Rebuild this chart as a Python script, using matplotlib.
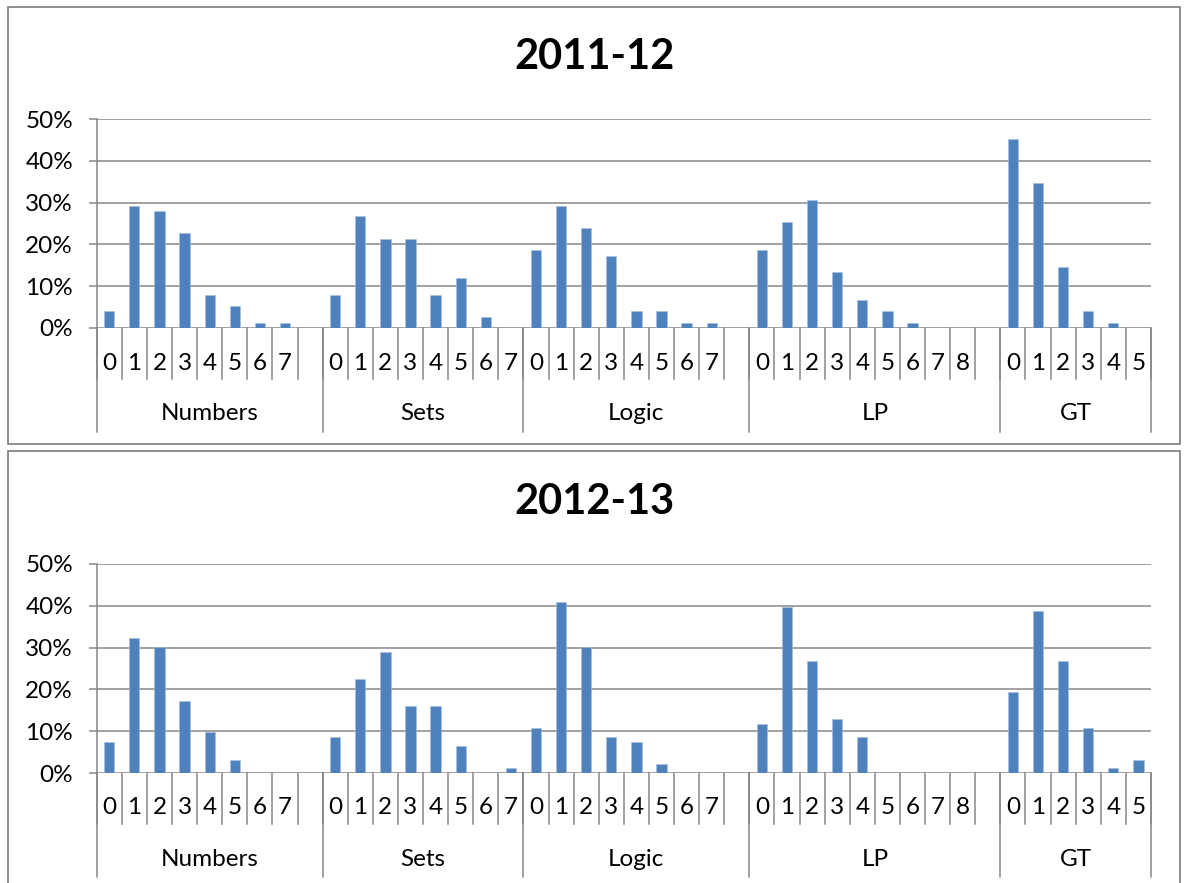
import numpy as np
import matplotlib
matplotlib.use("Agg")
import matplotlib.pyplot as plt
from matplotlib.patches import Rectangle
import matplotlib.transforms as mtransforms

# ---- data -----------------------------------------------------------------
groups = ["Numbers", "Sets", "Logic", "LP", "GT"]
# score labels per topic ("" = empty spacer category)
labels_numbers = ["0", "1", "2", "3", "4", "5", "6", "7", ""]
labels_sets = ["0", "1", "2", "3", "4", "5", "6", "7"]
labels_logic = ["0", "1", "2", "3", "4", "5", "6", "7", ""]
labels_lp = ["0", "1", "2", "3", "4", "5", "6", "7", "8", ""]
labels_gt = ["0", "1", "2", "3", "4", "5"]

# share of students (%) per score, 2011-12
y1_numbers = [4.0, 29.3, 28.0, 22.7, 8.0, 5.3, 1.3, 1.3]
y1_sets = [8.0, 26.7, 21.3, 21.3, 8.0, 12.0, 2.7, 0.0]
y1_logic = [18.7, 29.3, 24.0, 17.3, 4.0, 4.0, 1.3, 1.3]
y1_lp = [18.7, 25.3, 30.7, 13.3, 6.7, 4.0, 1.3, 0.0, 0.0]
y1_gt = [45.3, 34.7, 14.7, 4.0, 1.3, 0.0]

# share of students (%) per score, 2012-13
y2_numbers = [7.5, 32.3, 30.1, 17.2, 9.7, 3.2, 0.0, 0.0]
y2_sets = [8.6, 22.6, 29.0, 16.1, 16.1, 6.5, 0.0, 1.1]
y2_logic = [10.8, 40.9, 30.1, 8.6, 7.5, 2.2, 0.0, 0.0]
y2_lp = [11.8, 39.8, 26.9, 12.9, 8.6, 0.0, 0.0, 0.0, 0.0]
y2_gt = [19.4, 38.7, 26.9, 10.8, 1.1, 3.2]

group_labels = [labels_numbers, labels_sets, labels_logic, labels_lp, labels_gt]
panels = [
    ("2011-12", [y1_numbers, y1_sets, y1_logic, y1_lp, y1_gt]),
    ("2012-13", [y2_numbers, y2_sets, y2_logic, y2_lp, y2_gt]),
]

# ---- style ----------------------------------------------------------------
W, H = 1186, 883
BAR = "#4F81BD"
GRID = "#878787"
FONT = "Lato"
LABEL_SIZE = 17.5
plt.rcParams["font.family"] = [FONT, "DejaVu Sans"]

fig = plt.figure(figsize=(W / 100, H / 100), dpi=100)


def fx(px):
    return px / W


def fy(py):
    return 1 - py / H


def draw_panel(title, values, y_offset):
    zero_px = 328 + y_offset
    top_px = 119 + y_offset
    left_px, right_px = 96.7, 1151
    ax = fig.add_axes([fx(left_px), fy(zero_px), fx(right_px - left_px),
                       (zero_px - top_px) / H])
    h_px = zero_px - top_px

    # flatten categories
    xs, heights, ticklabels, bounds = [], [], [], [0]
    pos = 0
    for labs, vals in zip(group_labels, values):
        for i, lab in enumerate(labs):
            ticklabels.append(lab)
            if i < len(vals):
                xs.append(pos)
                heights.append(vals[i] / 100.0)
            pos += 1
        bounds.append(pos)
    n = pos

    ax.bar(xs, heights, width=0.41, color=BAR, edgecolor="#A7C0DE",
           linewidth=0.4, zorder=3)
    ax.set_xlim(-0.5, n - 0.5)
    ax.set_ylim(0, 0.5)
    ax.set_yticks(np.arange(0, 0.51, 0.1))
    ax.set_yticklabels([f"{int(round(v * 100))}%" for v in np.arange(0, 0.51, 0.1)])
    ax.yaxis.grid(True, color=GRID, linewidth=1.1, zorder=0)
    ax.tick_params(axis="y", length=6, width=1.1, color=GRID, pad=11,
                   labelsize=LABEL_SIZE)
    ax.tick_params(axis="x", bottom=False, labelbottom=False)
    for s in ax.spines.values():
        s.set_visible(False)
    ax.set_axisbelow(True)

    def py(px_below):
        return -px_below / h_px

    tr = mtransforms.blended_transform_factory(ax.transData, ax.transAxes)
    # short separators between scores
    for b in range(n + 1):
        ax.plot([b - 0.5, b - 0.5], [0, py(51)], color=GRID, lw=1.1,
                transform=tr, clip_on=False, zorder=2)
    # long separators between topics
    for k, b in enumerate(bounds):
        top = 1.0 if k == 0 else 0.0
        ax.plot([b - 0.5, b - 0.5], [top, py(104)], color=GRID, lw=1.1,
                transform=tr, clip_on=False, zorder=2)
    # score labels
    for i, lab in enumerate(ticklabels):
        ax.text(i, py(35), lab, transform=tr, ha="center", va="center",
                fontsize=LABEL_SIZE, color="black")
    # topic labels
    for k, g in enumerate(groups):
        c = (bounds[k] + bounds[k + 1] - 1) / 2
        ax.text(c, py(86), g, transform=tr, ha="center", va="center",
                fontsize=LABEL_SIZE, color="black")

    fig.text(fx(594), fy(57 + y_offset), title, ha="center", va="center",
             fontsize=30, fontweight="bold", color="black")


# chart frames
fig.patches.append(Rectangle((fx(8), fy(444)), fx(1180 - 8), (444 - 7) / H,
                             transform=fig.transFigure, fill=False,
                             edgecolor=GRID, linewidth=1.3))
fig.patches.append(Rectangle((fx(8), fy(900)), fx(1180 - 8), (900 - 451) / H,
                             transform=fig.transFigure, fill=False,
                             edgecolor=GRID, linewidth=1.3))

draw_panel(panels[0][0], panels[0][1], 0)
draw_panel(panels[1][0], panels[1][1], 445)

fig.savefig("out.png", dpi=100, facecolor="white")
